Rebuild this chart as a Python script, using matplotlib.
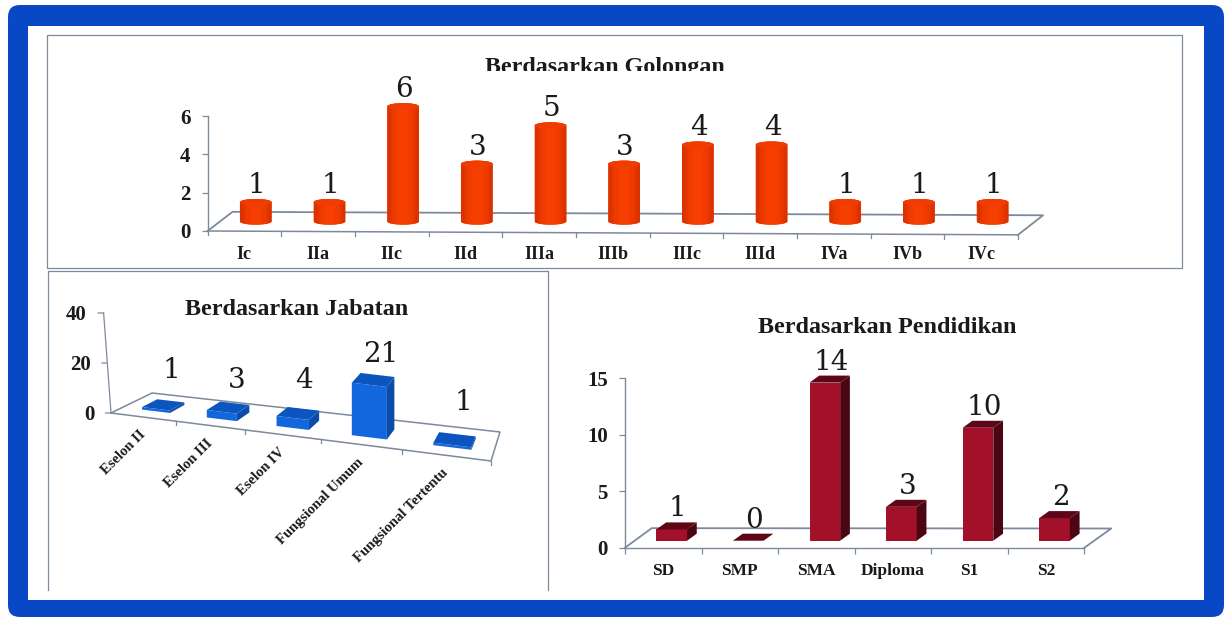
"""Pegawai charts: three pseudo-3D bar panels inside a blue frame."""
from __future__ import annotations

import matplotlib

matplotlib.use("Agg")

import matplotlib.pyplot as plt
import numpy as np
from matplotlib.colors import LinearSegmentedColormap
from matplotlib.patches import Ellipse, FancyBboxPatch, PathPatch, Polygon, Rectangle
from matplotlib.path import Path
from matplotlib.transforms import Bbox

W, H = 1229, 619
SERIF = ["Liberation Serif", "DejaVu Serif"]

GOLONGAN = ["Ic", "IIa", "IIc", "IId", "IIIa", "IIIb", "IIIc", "IIId", "IVa", "IVb", "IVc"]
GOLONGAN_COUNT = [1, 1, 6, 3, 5, 3, 4, 4, 1, 1, 1]
GOLONGAN_TICKS = [0, 2, 4, 6]

JABATAN = ["Eselon II", "Eselon III", "Eselon IV", "Fungsional Umum", "Fungsional Tertentu"]
JABATAN_COUNT = [1, 3, 4, 21, 1]
JABATAN_TICKS = [0, 20, 40]

PENDIDIKAN = ["SD", "SMP", "SMA", "Diploma", "S1", "S2"]
PENDIDIKAN_COUNT = [1, 0, 14, 3, 10, 2]
PENDIDIKAN_TICKS = [0, 5, 10, 15]

FRAME_BLUE = "#0848C4"
AXIS_GREY = "#7D8A9C"
INK = "#1A1A1A"
TICK_SIZE = 15

plt.rcParams["font.family"] = SERIF


def px_axes(fig, left, right, top, bottom):
    ax = fig.add_axes([left / W, 1 - bottom / H, (right - left) / W, (bottom - top) / H])
    ax.patch.set_visible(False)
    return ax


def style_axis(ax):
    for side in ["top", "right"]:
        ax.spines[side].set_visible(False)
    for side in ["left", "bottom"]:
        ax.spines[side].set_color(AXIS_GREY)
        ax.spines[side].set_linewidth(1)
    ax.tick_params(colors=AXIS_GREY, labelcolor=INK, width=0.9, length=4.3, labelsize=TICK_SIZE)
    ax.tick_params(axis="y", pad=8)
    for label in ax.get_xticklabels() + ax.get_yticklabels():
        label.set_fontweight("bold")


def value_label(ax, x, y, text, dx=0, dy=6):
    ax.annotate(text, (x, y), xytext=(dx * 0.72, dy * 0.72), textcoords="offset points",
                ha="center", va="baseline", fontsize=20, family="DejaVu Serif", color=INK,
                annotation_clip=False)


def draw_background(fig):
    ax = fig.add_axes([0, 0, 1, 1], zorder=-1)
    ax.set_xlim(0, W)
    ax.set_ylim(H, 0)
    ax.axis("off")
    ax.add_patch(FancyBboxPatch((8, 5), 1216, 612, boxstyle="round,pad=0,rounding_size=12",
                                fc=FRAME_BLUE, ec="none"))
    ax.add_patch(Rectangle((28, 26), 1176, 574, fc="white", ec="none"))
    ax.add_patch(Rectangle((47, 35), 1135, 233, fc="none", ec=AXIS_GREY, lw=0.9))
    ax.plot([47.5, 47.5, 548, 548], [590, 271, 271, 590], color=AXIS_GREY, lw=0.9)


def cylinder_outline(x, width, cap, bottom, top):
    # body plus the rounded lower rim, closed over the upper rim
    theta = np.linspace(np.pi, 2 * np.pi, 24)
    lower = np.column_stack([x + width / 2 * np.cos(theta), bottom + cap / 2 * np.sin(theta)])
    upper = np.column_stack([x + width / 2 * np.cos(theta), top - cap / 2 * np.sin(theta)])
    return Path(np.vstack([lower, upper[::-1], lower[:1]]), closed=True)


def golongan_chart(fig):
    ax = px_axes(fig, 207.5, 1018, 116, 231)
    n = len(GOLONGAN)
    ax.set_xlim(0, n)
    ax.set_ylim(0, 6)
    ax.set_xticks(np.arange(n) + 0.5, GOLONGAN)
    ax.set_yticks(GOLONGAN_TICKS)
    style_axis(ax)
    ax.tick_params(axis="x", length=0, pad=11, labelsize=13)
    ax.spines["bottom"].set_visible(False)

    # the floor tips down slightly to the right
    tilt = -0.2
    ax.plot([0, n], [0, tilt], color=AXIS_GREY, lw=1.1, clip_on=False)
    for i in range(n + 1):
        edge = tilt * i / n
        ax.plot([i, i], [edge, edge - 0.22], color=AXIS_GREY, lw=0.9, clip_on=False)
    ax.plot([0, 0.34, n + 0.34, n], [0, 1, 1 + tilt * 0.9, tilt], color=AXIS_GREY, lw=1.3,
            clip_on=False)

    lift, width, cap = 0.5, 0.43, 0.34
    shade = np.array([[0.0, 0.6, 0.9, 1.0, 0.9, 0.6, 0.0]])
    cmap = LinearSegmentedColormap.from_list("cyl", ["#DC3200", "#F84000"])
    for i, value in enumerate(GOLONGAN_COUNT):
        x = i + 0.5 + 0.155
        clip = PathPatch(cylinder_outline(x, width, cap, lift, lift + value),
                         fc="#EE3A00", ec="none", zorder=3, clip_on=False)
        ax.add_patch(clip)
        image = ax.imshow(shade, cmap=cmap, aspect="auto", zorder=3.5, interpolation="bilinear",
                          extent=(x - width / 2, x + width / 2, lift - cap, lift + value + cap))
        image.set_clip_box(fig.bbox)
        image.set_clip_path(clip)
        ax.add_patch(Ellipse((x, lift + value), width, cap, fc="#F03C00", ec="none", zorder=4,
                             clip_on=False))
        value_label(ax, x, lift + value + cap / 2, str(value), dx=1)
    ax.set_xlim(0, n)
    ax.set_ylim(0, 6)

    title = fig.text(605 / W, 1 - 73 / H, "Berdasarkan Golongan", ha="center", va="baseline",
                     fontsize=17.3, fontweight="bold", color=INK)
    title.set_clip_box(Bbox([[0, H - 70.5], [W, H]]))
    title.set_clip_on(True)


def floor_mapping(corners, span):
    """Perspective map from (category, depth) on the floor to axes data units."""
    src = [(0, 0), (span, 0), (span, 1), (0, 1)]
    rows, rhs = [], []
    for (u, w), (x, y) in zip(src, corners):
        rows.append([u, w, 1, 0, 0, 0, -u * x, -w * x])
        rows.append([0, 0, 0, u, w, 1, -u * y, -w * y])
        rhs += [x, y]
    h = np.append(np.linalg.solve(np.array(rows, float), np.array(rhs, float)), 1).reshape(3, 3)

    def place(u, w, value=0.0):
        x, y, s = h @ np.array([u, w, 1.0])
        return x / s, y / s + value

    return place


def jabatan_chart(fig):
    ax = px_axes(fig, 111, 491, 313, 413)
    n = len(JABATAN)
    ax.set_xlim(0, n)
    ax.set_ylim(0, 40)
    ax.axis("off")
    place = floor_mapping([(0, 0), (5, -19.2), (5.118, -7.6), (0.54, 8)], n)

    floor = [place(0, 0), place(n, 0), place(n, 1), place(0, 1), place(0, 0)]
    ax.plot(*zip(*floor), color=AXIS_GREY, lw=1.1, clip_on=False)

    # value axis leans a little to the left at the top
    lean = -0.097 / 40
    ax.plot([0, 40 * lean], [0, 40], color=AXIS_GREY, lw=0.9, clip_on=False)
    for tick in JABATAN_TICKS:
        x = tick * lean
        ax.annotate("", (x, tick), xytext=(-4, 0), textcoords="offset points", annotation_clip=False,
                    arrowprops=dict(arrowstyle="-", color=AXIS_GREY, lw=0.9, shrinkA=0, shrinkB=0))
        ax.annotate(str(tick), (x, tick), xytext=(-12, 0), textcoords="offset points", ha="right",
                    va="center_baseline", fontsize=TICK_SIZE, fontweight="bold", color=INK,
                    annotation_clip=False)

    for i, name in enumerate(JABATAN):
        x, y = place(i + 0.5, 0)
        edge = place(i + 1, 0)
        ax.plot([edge[0]] * 2, [edge[1], edge[1] - 1.5], color=AXIS_GREY, lw=0.9, clip_on=False)
        ax.annotate(name, (x, y), xytext=(-3, -8), textcoords="offset points", rotation=45,
                    rotation_mode="anchor", ha="right", va="top", fontsize=10.5,
                    fontweight="bold", color=INK, annotation_clip=False)

    label_dx = [3, 4, 3, 6, 9]
    label_dy = [23, 15, 21, 13, 24]
    u0, u1, w0, w1 = 0.31, 0.75, 0.27, 0.65
    for i, value in enumerate(JABATAN_COUNT):
        a, b = place(i + u0, w0), place(i + u1, w0)
        c, d = place(i + u1, w1), place(i + u0, w1)
        top = [(p[0], p[1] + value) for p in (a, b, c, d)]
        ax.add_patch(Polygon([a, b, top[1], top[0]], fc="#1267DC", ec="none", zorder=3, clip_on=False))
        ax.add_patch(Polygon([b, c, top[2], top[1]], fc="#0B4CA8", ec="none", zorder=3, clip_on=False))
        ax.add_patch(Polygon(top, fc="#0C55BE", ec="none", zorder=4, clip_on=False))
        x, y = place(i + 0.5, w1, value)
        value_label(ax, x, y, str(value), dx=label_dx[i], dy=label_dy[i])

    fig.text(296.5 / W, 1 - 315 / H, "Berdasarkan Jabatan", ha="center", va="baseline",
             fontsize=17.4, fontweight="bold", color=INK)


def pendidikan_chart(fig):
    ax = px_axes(fig, 625, 1084.4, 378.3, 547.7)
    n = len(PENDIDIKAN)
    ax.set_xlim(0, n)
    ax.set_ylim(0, 15)
    ax.set_xticks(np.arange(n + 1))
    ax.set_xticklabels([])
    ax.set_xticks(np.arange(n) + 0.5, PENDIDIKAN, minor=True)
    ax.set_yticks(PENDIDIKAN_TICKS)
    style_axis(ax)
    ax.tick_params(axis="x", which="minor", length=0, pad=11, labelsize=12.5, labelcolor=INK)
    for label in ax.get_xticklabels(minor=True):
        label.set_fontweight("bold")

    ax.plot([0, 0.35, n + 0.35, n], [0, 1.73, 1.7, 0], color=AXIS_GREY, lw=1.3, clip_on=False)

    lift, width, dx, dy = 0.62, 0.4, 0.127, 0.62
    for i, value in enumerate(PENDIDIKAN_COUNT):
        x0 = i + 0.41
        ax.bar(x0 + width / 2, value, width, bottom=lift, color="#A3102A", zorder=3)
        x1 = x0 + width
        y1 = lift + value
        ax.add_patch(Polygon([(x1, lift), (x1 + dx, lift + dy), (x1 + dx, y1 + dy), (x1, y1)],
                             fc="#4C0512", ec="none", zorder=3, clip_on=False))
        ax.add_patch(Polygon([(x0, y1), (x1, y1), (x1 + dx, y1 + dy), (x0 + dx, y1 + dy)],
                             fc="#5E0516", ec="none", zorder=3, clip_on=False))
        value_label(ax, x0 + width / 2, y1 + dy, str(value), dx=6, dy=6)

    fig.text(887.5 / W, 1 - 333 / H, "Berdasarkan Pendidikan", ha="center", va="baseline",
             fontsize=17.4, fontweight="bold", color=INK)


def main():
    fig = plt.figure(figsize=(W / 100, H / 100), dpi=100, facecolor="white")
    draw_background(fig)
    golongan_chart(fig)
    jabatan_chart(fig)
    pendidikan_chart(fig)
    fig.savefig("out.png", dpi=100)
    plt.close(fig)


if __name__ == "__main__":
    main()
